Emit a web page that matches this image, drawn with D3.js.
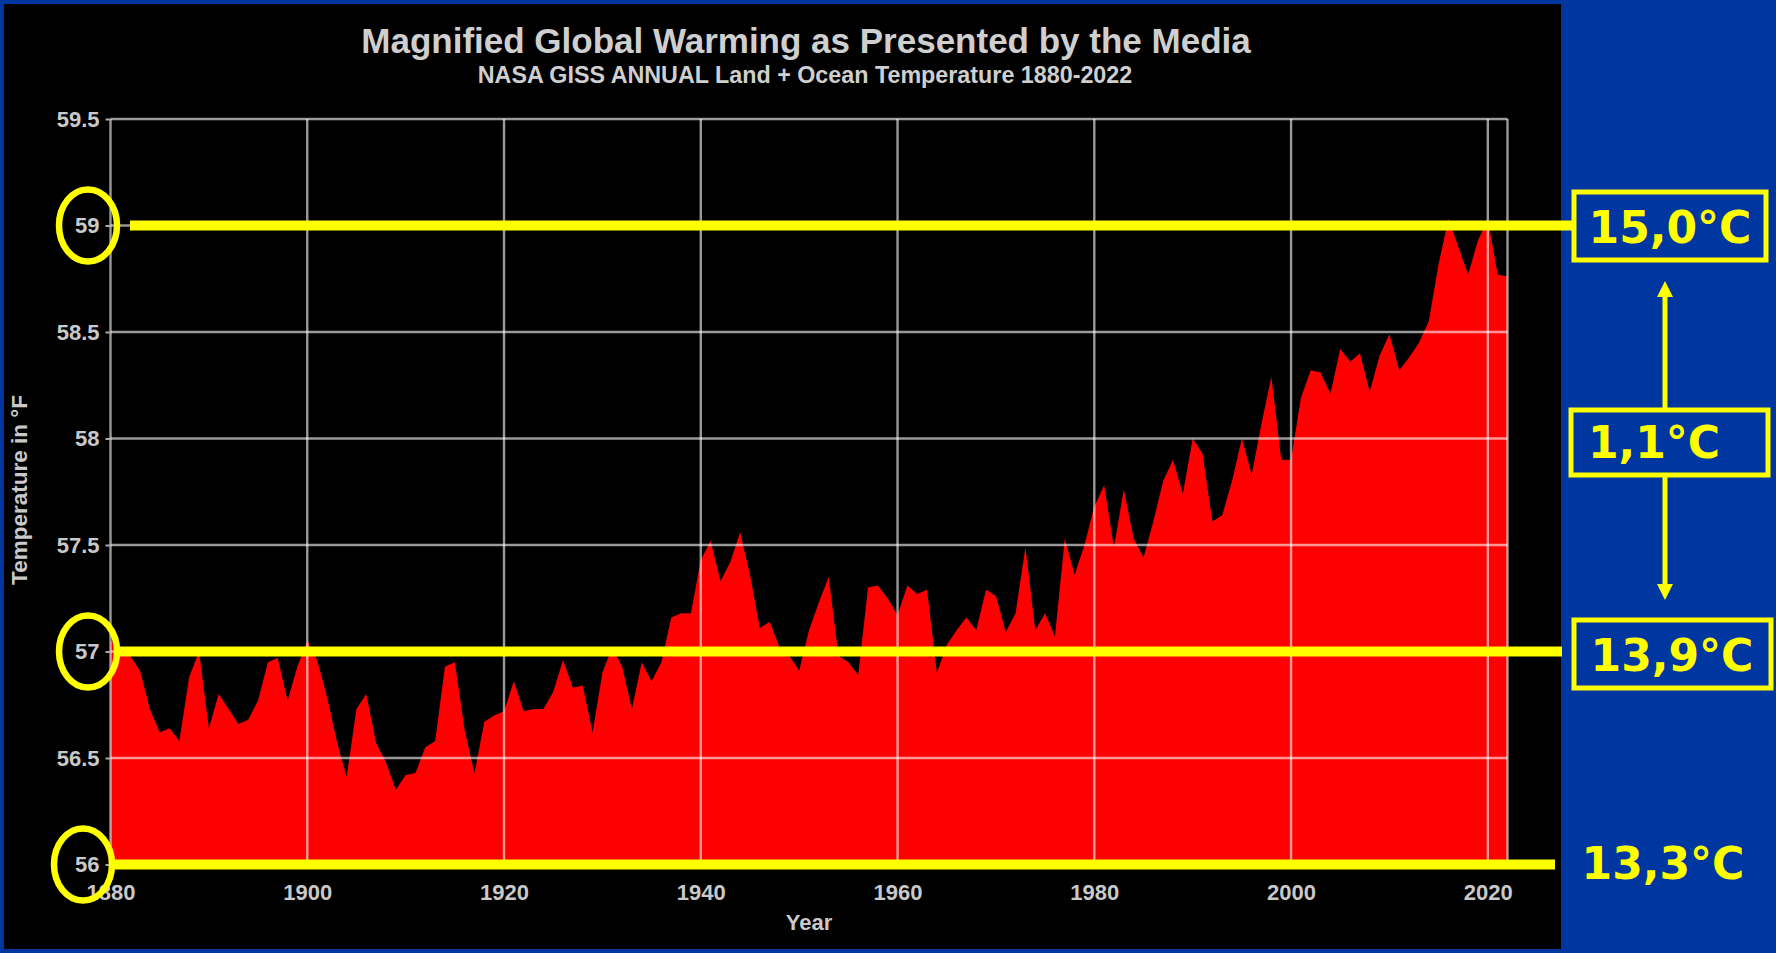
<!DOCTYPE html>
<html>
<head>
<meta charset="utf-8">
<script src="https://cdn.jsdelivr.net/npm/d3@7"></script>
<style>
  html, body { margin: 0; padding: 0; background: #0036a0; }
  svg { display: block; }
</style>
</head>
<body>
<svg id="chart" width="1776" height="953"></svg>
<script>
// ---------------- DATA ----------------
const titleText = "Magnified Global Warming as Presented by the Media";
const subtitleText = "NASA GISS ANNUAL Land + Ocean Temperature 1880-2022";
const xAxisTitle = "Year";
const yAxisTitle = "Temperature in °F";

const startYear = 1880;
const endYear = 2022;
// annual temperature in °F, 1880 .. 2022
const temps = [
  57.05, 57.02, 56.98, 56.91, 56.73, 56.62, 56.64, 56.58, 56.88, 57.00, // 1880-1889
  56.64, 56.80, 56.73, 56.66, 56.68, 56.77, 56.95, 56.97, 56.77, 56.93, // 1890-1899
  57.05, 56.96, 56.79, 56.58, 56.41, 56.73, 56.80, 56.57, 56.48, 56.35, // 1900-1909
  56.42, 56.43, 56.55, 56.58, 56.93, 56.95, 56.63, 56.43, 56.67, 56.70, // 1910-1919
  56.72, 56.86, 56.72, 56.73, 56.73, 56.81, 56.96, 56.83, 56.84, 56.62, // 1920-1929
  56.90, 57.02, 56.93, 56.73, 56.95, 56.86, 56.95, 57.16, 57.18, 57.18, // 1930-1939
  57.43, 57.52, 57.33, 57.42, 57.56, 57.36, 57.11, 57.14, 57.02, 56.98, // 1940-1949
  56.91, 57.10, 57.23, 57.35, 56.98, 56.95, 56.89, 57.30, 57.31, 57.25, // 1950-1959
  57.17, 57.31, 57.27, 57.29, 56.90, 57.03, 57.10, 57.16, 57.10, 57.29, // 1960-1969
  57.26, 57.09, 57.18, 57.49, 57.10, 57.18, 57.07, 57.53, 57.36, 57.50, // 1970-1979
  57.68, 57.78, 57.49, 57.76, 57.53, 57.44, 57.61, 57.80, 57.90, 57.74, // 1980-1989
  58.00, 57.93, 57.61, 57.64, 57.80, 58.00, 57.83, 58.07, 58.29, 57.90, // 1990-1999
  57.90, 58.19, 58.32, 58.31, 58.21, 58.42, 58.36, 58.40, 58.22, 58.39, // 2000-2009
  58.49, 58.32, 58.38, 58.45, 58.55, 58.82, 59.03, 58.90, 58.77, 58.93, // 2010-2019
  59.03, 58.77, 58.76                                                  // 2020-2022
];

const xTicks = [1880, 1900, 1920, 1940, 1960, 1980, 2000, 2020];
const yTicks = [56, 56.5, 57, 57.5, 58, 58.5, 59, 59.5];

// annotation values
const markedF = [59, 57, 56];
const celsiusLabels = ["15,0°C", "13,9°C", "13,3°C"];
const diffLabel = "1,1°C";

// ---------------- DRAW ----------------
const svg = d3.select("#chart");
const W = 1776, H = 953;
const BLUE = "#0036a0", YEL = "#ffff00", RED = "#ff0000", GREY = "#c9c9c9";
const FONT = "'Liberation Sans', Arial, Helvetica, sans-serif";
const FONT2 = "'DejaVu Sans', Verdana, sans-serif";

svg.append("rect").attr("width", W).attr("height", H).attr("fill", BLUE);
svg.append("rect").attr("x", 4).attr("y", 4).attr("width", 1557).attr("height", 945).attr("fill", "#000");

const x = d3.scaleLinear().domain([startYear, endYear]).range([110.5, 1507.5]);
const y = d3.scaleLinear().domain([56, 59.5]).range([864.5, 119]);

const data = temps.map((t, i) => ({ year: startYear + i, temp: t }));

// area
const area = d3.area()
  .x(d => x(d.year))
  .y0(y(56))
  .y1(d => y(d.temp));
svg.append("path").datum(data).attr("d", area).attr("fill", RED);

// grid on top (semi-transparent)
const grid = svg.append("g").attr("stroke", "#fff").attr("stroke-opacity", 0.6).attr("stroke-width", 2.4);
grid.selectAll("line.v").data(xTicks.concat([endYear])).join("line")
  .attr("x1", d => x(d)).attr("x2", d => x(d))
  .attr("y1", y(59.5)).attr("y2", y(56));
grid.selectAll("line.h").data(yTicks).join("line")
  .attr("x1", x(startYear)).attr("x2", x(endYear))
  .attr("y1", d => y(d)).attr("y2", d => y(d));

// y axis labels
const yAxis = svg.append("g").attr("transform", `translate(${x(startYear)},0)`)
  .call(d3.axisLeft(y).tickValues(yTicks).tickSize(5).tickPadding(6)
    .tickFormat(d => (d % 1 ? d.toFixed(1) : String(d))));
yAxis.select(".domain").remove();
yAxis.selectAll(".tick line").attr("stroke", "#aaa").attr("stroke-width", 2);
yAxis.selectAll(".tick text").attr("fill", GREY).attr("font-family", FONT)
  .attr("font-weight", "bold").attr("font-size", 22);

// x axis labels
const xAxis = svg.append("g").attr("transform", `translate(0,${y(56)})`)
  .call(d3.axisBottom(x).tickValues(xTicks).tickSize(0).tickPadding(20).tickFormat(d3.format("d")));
xAxis.select(".domain").remove();
xAxis.selectAll(".tick text").attr("fill", GREY).attr("font-family", FONT)
  .attr("font-weight", "bold").attr("font-size", 22);

// titles
svg.append("text").attr("x", 806).attr("y", 53).attr("text-anchor", "middle")
  .attr("fill", "#cfcfcf").attr("font-family", FONT).attr("font-weight", "bold")
  .attr("font-size", 35).text(titleText);
svg.append("text").attr("x", 805).attr("y", 83).attr("text-anchor", "middle")
  .attr("fill", "#cfcfcf").attr("font-family", FONT).attr("font-weight", "bold")
  .attr("font-size", 23.3).text(subtitleText);
svg.append("text").attr("x", 809).attr("y", 930).attr("text-anchor", "middle")
  .attr("fill", GREY).attr("font-family", FONT).attr("font-weight", "bold")
  .attr("font-size", 22).text(xAxisTitle);
svg.append("text").attr("transform", "translate(27,490) rotate(-90)").attr("text-anchor", "middle")
  .attr("fill", GREY).attr("font-family", FONT).attr("font-weight", "bold")
  .attr("font-size", 22.5).text(yAxisTitle);

// yellow annotation lines
const lineStart = [130, 117, 113];
const lineEnd = [1572, 1562, 1555];
svg.selectAll("line.ann").data(markedF).join("line")
  .attr("x1", (d, i) => lineStart[i]).attr("x2", (d, i) => lineEnd[i])
  .attr("y1", d => y(d)).attr("y2", d => y(d))
  .attr("stroke", YEL).attr("stroke-width", 10);

// ellipses around tick labels
const ellX = [88, 88, 83];
svg.selectAll("ellipse.ann").data(markedF).join("ellipse")
  .attr("cx", (d, i) => ellX[i]).attr("cy", d => y(d))
  .attr("rx", 29).attr("ry", 36)
  .attr("fill", "none").attr("stroke", YEL).attr("stroke-width", 6.5);

// boxes on the right
const boxes = [
  { x: 1574, y: 192, w: 192, h: 68 },
  { x: 1571, y: 410, w: 197, h: 65 },
  { x: 1574, y: 620, w: 197, h: 68 }
];
svg.selectAll("rect.box").data(boxes).join("rect")
  .attr("x", d => d.x).attr("y", d => d.y).attr("width", d => d.w).attr("height", d => d.h)
  .attr("fill", "none").attr("stroke", YEL).attr("stroke-width", 5);

const labCenter = [1670, 1672, 1663];
const labBase = [243, 671, 879];
svg.selectAll("text.cel").data(celsiusLabels).join("text")
  .attr("x", (d, i) => labCenter[i]).attr("y", (d, i) => labBase[i])
  .attr("text-anchor", "middle").attr("fill", YEL).attr("font-family", FONT2)
  .attr("font-weight", "bold").attr("font-size", 44).text(d => d);
svg.append("text").attr("x", 1654).attr("y", 458).attr("text-anchor", "middle")
  .attr("fill", YEL).attr("font-family", FONT2).attr("font-weight", "bold")
  .attr("font-size", 44).text(diffLabel);

// arrows
const ax = 1665;
svg.append("line").attr("x1", ax).attr("x2", ax).attr("y1", 408).attr("y2", 292)
  .attr("stroke", YEL).attr("stroke-width", 5);
svg.append("path").attr("d", `M${ax},281 L${ax - 8},297 L${ax + 8},297 Z`).attr("fill", YEL);
svg.append("line").attr("x1", ax).attr("x2", ax).attr("y1", 477).attr("y2", 589)
  .attr("stroke", YEL).attr("stroke-width", 5);
svg.append("path").attr("d", `M${ax},600 L${ax - 8},584 L${ax + 8},584 Z`).attr("fill", YEL);
</script>
</body>
</html>
